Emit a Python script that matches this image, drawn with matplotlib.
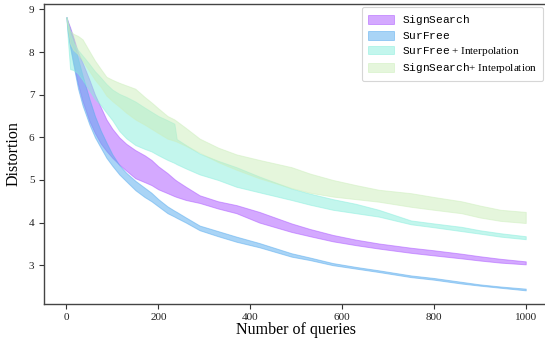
import matplotlib
matplotlib.use("Agg")
import matplotlib.pyplot as plt
import numpy as np

queries = [0, 3, 8, 15, 25, 35, 50, 62, 75, 87, 100, 115, 130, 150, 170, 185, 200, 220,
           235, 240, 260, 290, 330, 370, 420, 490, 530, 580, 630, 680, 750, 800, 860,
           900, 945, 1000]

# SignSearch (lower / upper)
signsearch_lo = [8.8, 8.5, 8.15, 7.75, 7.25, 6.85, 6.38, 6.1, 5.85, 5.68, 5.52, 5.36, 5.22, 5.04,
                 4.95, 4.88, 4.78, 4.69, 4.62, 4.6, 4.53, 4.46, 4.33, 4.22, 4.0, 3.78, 3.68,
                 3.56, 3.47, 3.39, 3.29, 3.23, 3.16, 3.11, 3.06, 3.02]
signsearch_hi = [8.82, 8.72, 8.58, 8.35, 8.0, 7.75, 7.35, 7.0, 6.7, 6.42, 6.2, 6.0, 5.85, 5.7,
                 5.58, 5.47, 5.32, 5.16, 5.02, 4.98, 4.84, 4.64, 4.5, 4.41, 4.25, 3.98, 3.85,
                 3.71, 3.6, 3.51, 3.41, 3.35, 3.27, 3.21, 3.15, 3.09]

# SurFree
surfree_lo = [8.8, 8.45, 8.1, 7.7, 7.15, 6.75, 6.3, 6.0, 5.75, 5.52, 5.33, 5.13, 4.97, 4.76,
              4.6, 4.5, 4.38, 4.22, 4.14, 4.11, 4.0, 3.82, 3.68, 3.55, 3.42, 3.2, 3.12, 3.0,
              2.92, 2.84, 2.72, 2.66, 2.57, 2.52, 2.47, 2.41]
surfree_hi = [8.82, 8.7, 8.52, 8.3, 7.85, 7.45, 6.9, 6.5, 6.15, 5.88, 5.6, 5.35, 5.17, 4.98,
              4.82, 4.7, 4.55, 4.38, 4.28, 4.25, 4.12, 3.93, 3.8, 3.67, 3.52, 3.28, 3.18, 3.05,
              2.96, 2.88, 2.76, 2.7, 2.61, 2.55, 2.5, 2.45]

# SurFree + Interpolation
surfree_int_lo = [8.8, 8.3, 7.6, 7.58, 7.5, 7.35, 7.1, 6.9, 6.75, 6.58, 6.4, 6.15, 5.98, 5.82,
                  5.73, 5.67, 5.58, 5.47, 5.4, 5.37, 5.27, 5.13, 5.0, 4.84, 4.71, 4.53, 4.42,
                  4.3, 4.22, 4.14, 3.96, 3.89, 3.8, 3.74, 3.67, 3.61]
surfree_int_hi = [8.82, 8.62, 8.42, 8.22, 8.05, 7.92, 7.72, 7.55, 7.4, 7.25, 7.12, 7.02, 6.95,
                  6.84, 6.7, 6.6, 6.5, 6.4, 6.32, 5.96, 5.82, 5.62, 5.45, 5.3, 5.08, 4.8, 4.68,
                  4.55, 4.44, 4.3, 4.05, 3.98, 3.9, 3.82, 3.75, 3.68]

# SignSearch + Interpolation
signsearch_int_lo = [8.8, 8.55, 8.2, 8.05, 7.95, 7.8, 7.55, 7.35, 7.18, 6.98, 6.85, 6.72, 6.58,
                     6.42, 6.3, 6.2, 6.1, 5.97, 5.92, 5.9, 5.8, 5.64, 5.42, 5.24, 5.04, 4.81,
                     4.7, 4.61, 4.55, 4.49, 4.37, 4.3, 4.22, 4.12, 4.04, 3.99]
signsearch_int_hi = [8.82, 8.7, 8.5, 8.43, 8.38, 8.3, 8.02, 7.8, 7.6, 7.42, 7.35, 7.28, 7.22,
                     7.14, 6.95, 6.82, 6.68, 6.5, 6.42, 6.38, 6.22, 5.97, 5.76, 5.6, 5.47, 5.3,
                     5.15, 5.0, 4.88, 4.77, 4.69, 4.6, 4.5, 4.4, 4.3, 4.25]

plt.rcParams['font.family'] = ['Liberation Serif', 'DejaVu Serif']
plt.rcParams['mathtext.fontset'] = 'custom'
plt.rcParams['mathtext.tt'] = 'Liberation Mono'
plt.rcParams['mathtext.rm'] = 'Liberation Serif'

fig = plt.figure(figsize=(5.45, 3.41), dpi=100)
ax = fig.add_axes([43.5 / 545, 1 - 304 / 341, (548.7 - 43.5) / 545, (304 - 3.5) / 341])

x = np.array(queries)
bands = [
    (signsearch_lo, signsearch_hi, '#aa55ff', r'$\mathtt{SignSearch}$'),
    (surfree_lo, surfree_hi, '#55aaee', r'$\mathtt{SurFree}$'),
    (surfree_int_lo, surfree_int_hi, '#88eedd', r'$\mathtt{SurFree}$ + Interpolation'),
    (signsearch_int_lo, signsearch_int_hi, '#cceebb', r'$\mathtt{SignSearch}$+ Interpolation'),
]
for lo, hi, col, lab in bands:
    ax.fill_between(x, lo, hi, color=col, alpha=0.5, linewidth=0.7, label=lab)

ax.set_xticks([0, 200, 400, 600, 800, 1000])
ax.set_yticks([3, 4, 5, 6, 7, 8, 9])
ax.tick_params(labelsize=8, length=3.5, width=0.8, pad=3, colors='#333333', labelcolor='#222222')
for s in ax.spines.values():
    s.set_color('#444444')
    s.set_linewidth(1.0)

ax.set_xlabel("Number of queries", fontsize=11.5, labelpad=0)
ax.set_ylabel("Distortion", fontsize=11.5, labelpad=5)

leg = ax.legend(loc='upper right', bbox_to_anchor=(543 / 545, 1 - 7 / 341),
                bbox_transform=fig.transFigure, borderaxespad=0, fontsize=8,
                frameon=True, fancybox=True, handlelength=2.3, handleheight=0.8,
                labelspacing=0.3, borderpad=0.55, handletextpad=0.7)
leg.get_frame().set_edgecolor('#cccccc')
leg.get_frame().set_linewidth(0.8)

fig.savefig("out.png", dpi=100)
